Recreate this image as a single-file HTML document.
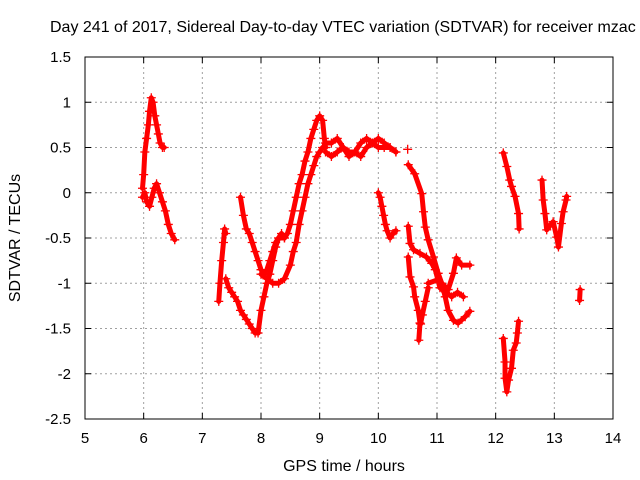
<!DOCTYPE html>
<html><head><meta charset="utf-8"><style>
body{margin:0;background:#fff}
svg{display:block;font-family:"Liberation Sans",sans-serif}
</style></head><body>
<svg id="c" width="640" height="480">
<rect width="640" height="480" fill="#fff"/>
<text x="50" y="32" font-size="16" text-anchor="start">Day 241 of 2017, Sidereal Day-to-day VTEC variation (SDTVAR) for receiver mzac</text>
<text x="344" y="471" font-size="16" text-anchor="middle">GPS time / hours</text>
<text transform="translate(20,238) rotate(-90)" font-size="16" text-anchor="middle">SDTVAR / TECUs</text>
<g id="grid"></g>
<g id="ticks"></g>
<g id="marks"></g>
<rect x="85" y="57" width="528" height="362" fill="none" stroke="#000"/>
</svg>
<script>
const xTicks=[5,6,7,8,9,10,11,12,13,14];
const yTicks=[1.5,1,0.5,0,-0.5,-1,-1.5,-2,-2.5];
const yTickLabels=["1.5","1","0.5","0","-0.5","-1","-1.5","-2","-2.5"];
const trackA1=[[5.98,0.05],[6.0,0.2],[6.02,0.45],[6.05,0.6],[6.08,0.75],[6.1,0.9],[6.13,1.05],[6.16,1.0],[6.19,0.85],[6.22,0.75],[6.25,0.65],[6.28,0.55],[6.32,0.5],[6.35,0.5]];
const trackA2=[[5.98,-0.05],[6.02,0.0],[6.05,-0.1],[6.1,-0.15],[6.14,-0.05],[6.18,0.05],[6.22,0.1],[6.27,0.0],[6.32,-0.1],[6.37,-0.2],[6.42,-0.35],[6.47,-0.45],[6.53,-0.52]];
const trackB1=[[7.28,-1.2],[7.3,-1.0],[7.33,-0.75],[7.36,-0.55],[7.38,-0.4],[7.4,-0.45]];
const trackB2=[[7.4,-0.95],[7.45,-1.05],[7.5,-1.1],[7.55,-1.15],[7.6,-1.2],[7.65,-1.3],[7.7,-1.35],[7.75,-1.4],[7.8,-1.45],[7.85,-1.5],[7.9,-1.55],[7.95,-1.55],[8.0,-1.3],[8.05,-1.15],[8.1,-1.0],[8.15,-0.9],[8.2,-0.75],[8.25,-0.6],[8.3,-0.5],[8.4,-0.5],[8.45,-0.45],[8.5,-0.35],[8.55,-0.2],[8.6,-0.05],[8.65,0.1],[8.7,0.2],[8.75,0.35],[8.8,0.45],[8.85,0.6],[8.9,0.7],[8.95,0.8],[9.0,0.85],[9.05,0.8],[9.08,0.6],[9.1,0.5]];
const trackB3=[[7.65,-0.05],[7.7,-0.25],[7.75,-0.4],[7.8,-0.45],[7.85,-0.55],[7.9,-0.65],[7.95,-0.75],[8.0,-0.85],[8.05,-0.9],[8.1,-0.85],[8.15,-0.75],[8.2,-0.65],[8.25,-0.55],[8.3,-0.5],[8.35,-0.45],[8.4,-0.5]];
const trackB4=[[8.0,-0.9],[8.1,-0.95],[8.2,-1.0],[8.3,-1.0],[8.4,-0.95],[8.5,-0.8],[8.55,-0.65],[8.6,-0.55],[8.65,-0.35],[8.7,-0.2],[8.75,-0.05],[8.8,0.1],[8.85,0.2],[8.9,0.3],[8.95,0.4],[9.0,0.45],[9.05,0.5],[9.1,0.5]];
const trackC1=[[9.1,0.55],[9.2,0.55],[9.3,0.6],[9.4,0.5],[9.5,0.45],[9.6,0.45],[9.7,0.55],[9.8,0.6],[9.9,0.55],[10.0,0.6],[10.1,0.55],[10.2,0.5],[10.3,0.45]];
const trackC2=[[9.1,0.45],[9.2,0.4],[9.3,0.45],[9.4,0.5],[9.5,0.4],[9.6,0.45],[9.7,0.4],[9.8,0.5],[9.9,0.55],[10.0,0.5],[10.1,0.5],[10.2,0.5],[10.3,0.45]];
const trackD=[[10.0,0.0],[10.03,-0.05],[10.06,-0.15],[10.09,-0.25],[10.12,-0.35],[10.15,-0.42],[10.2,-0.5],[10.25,-0.45],[10.3,-0.42]];
const trackE0=[[10.5,0.48]];
const trackE1=[[10.51,0.31],[10.62,0.21],[10.74,-0.01],[10.77,-0.21],[10.8,-0.38],[10.85,-0.52],[10.94,-0.71],[11.02,-0.89],[11.08,-1.0],[11.14,-1.15],[11.19,-1.3],[11.28,-1.41],[11.36,-1.44],[11.48,-1.37],[11.56,-1.31]];
const trackE2=[[10.85,-1.0],[11.02,-0.96],[11.19,-1.07],[11.28,-0.89],[11.33,-0.72],[11.42,-0.8],[11.56,-0.8]];
const trackE3=[[10.51,-0.37],[10.54,-0.56],[10.6,-0.63],[10.71,-0.67],[10.82,-0.71],[10.91,-0.78],[10.97,-0.85],[11.05,-1.05],[11.15,-1.1],[11.25,-1.15],[11.35,-1.1],[11.45,-1.15]];
const trackE4=[[10.51,-0.71],[10.54,-0.93],[10.6,-1.04],[10.62,-1.15],[10.68,-1.3],[10.71,-1.44],[10.69,-1.63]];
const trackE5=[[10.72,-1.45],[10.75,-1.35],[10.8,-1.2],[10.85,-1.05]];
const trackF=[[12.13,0.44],[12.19,0.29],[12.24,0.14],[12.27,0.07],[12.33,-0.04],[12.39,-0.23],[12.4,-0.4]];
const trackG=[[12.79,0.14],[12.81,-0.08],[12.84,-0.23],[12.87,-0.41],[12.93,-0.36],[12.98,-0.32],[13.04,-0.49],[13.07,-0.6],[13.12,-0.34],[13.15,-0.21],[13.2,-0.08],[13.21,-0.04]];
const trackH=[[13.44,-1.07],[13.43,-1.19]];
const trackI=[[12.13,-1.61],[12.16,-1.87],[12.16,-2.05],[12.19,-2.2],[12.22,-2.07],[12.27,-1.94],[12.3,-1.74],[12.35,-1.66],[12.37,-1.55],[12.39,-1.42]];
const tracks=[trackA1,trackA2,trackB1,trackB2,trackB3,trackB4,trackC1,trackC2,trackD,trackE0,trackE1,trackE2,trackE3,trackE4,trackE5,trackF,trackG,trackH,trackI];

const NS="http://www.w3.org/2000/svg";
const X=h=>85+(h-5)*(528/9);
const Y=v=>57+(1.5-v)*(362/4);
const grid=document.getElementById('grid'),ticks=document.getElementById('ticks'),marks=document.getElementById('marks');
function mk(tag,attrs,parent){const e=document.createElementNS(NS,tag);for(const k in attrs)e.setAttribute(k,attrs[k]);parent.appendChild(e);return e;}
xTicks.forEach(t=>{
  const x=X(t);
  if(t>5&&t<14){const g=mk('line',{x1:x,x2:x,y1:57,y2:419,stroke:'#a0a0a0','stroke-dasharray':'2,3'},grid);
  
  }
  mk('line',{x1:x,x2:x,y1:419,y2:413,stroke:'#000'},ticks);
  mk('line',{x1:x,x2:x,y1:57,y2:63,stroke:'#000'},ticks);
  const l=mk('text',{x:x,y:443,'font-size':15,'text-anchor':'middle'},ticks);l.textContent=t;
  
  
});
yTicks.forEach((t,i)=>{
  const y=Y(t);
  if(i>0&&i<yTicks.length-1){const g=mk('line',{x1:85,x2:613,y1:y,y2:y,stroke:'#a0a0a0','stroke-dasharray':'2,3'},grid);
  
  }
  mk('line',{x1:85,x2:91,y1:y,y2:y,stroke:'#000'},ticks);
  mk('line',{x1:607,x2:613,y1:y,y2:y,stroke:'#000'},ticks);
  const l=mk('text',{x:71,y:y+5,'font-size':15,'text-anchor':'end'},ticks);l.textContent=yTickLabels[i];
  
  
});
tracks.forEach(tr=>{
  if(tr.length>1){const p=mk('polyline',{points:tr.map(d=>X(d[0])+','+Y(d[1])).join(' '),fill:'none',stroke:'#f00','stroke-width':5,'stroke-linejoin':'round','stroke-linecap':'round'},marks);
  
  }
  tr.forEach(d=>{
    const x=X(d[0]),y=Y(d[1]);
    const m=mk('path',{d:`M${x-4.5},${y}h9M${x},${y-4.5}v9`,stroke:'#f00','stroke-width':1.3},marks);
    
    
  });
});
</script>
</body></html>
